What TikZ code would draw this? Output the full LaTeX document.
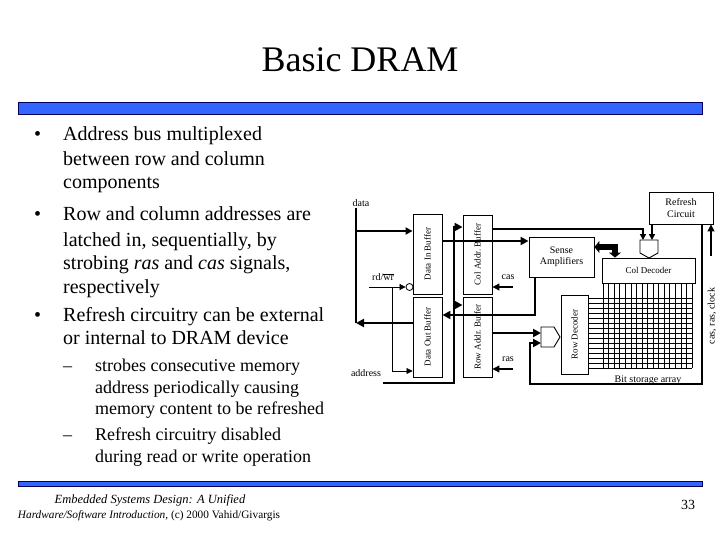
\documentclass[tikz,border=0pt]{standalone}
\usepackage{fontspec}
\setmainfont{Liberation Serif}
\usetikzlibrary{arrows.meta}
\definecolor{barblue}{RGB}{51,102,255}
\definecolor{barnavy}{RGB}{0,0,90}
\begin{document}
\begin{tikzpicture}[x=1pt,y=-1pt,
  box/.style={draw, line width=0.9pt, inner sep=0pt},
  lbl/.style={inner sep=0pt, font=\fontsize{9}{10}\selectfont},
  small/.style={inner sep=0pt, font=\fontsize{10}{11}\selectfont},
  thickline/.style={line width=2.8pt},
  bus/.style={line width=2.8pt, line join=miter, -{Triangle[length=8pt,width=8pt]}},
  medarrow/.style={line width=1.8pt, line join=miter, -{Triangle[length=7pt,width=7pt]}},
  thinarrow/.style={line width=1.1pt, -{Triangle[length=7pt,width=7pt]}},
  hairarrow/.style={line width=0.7pt, -{Triangle[length=6pt,width=6pt]}},
  fatarrow/.style={line width=6pt, line join=miter, {Triangle[length=5pt,width=12pt]}-{Triangle[length=5pt,width=12pt]}},
  maintext/.style={anchor=base west, inner sep=0pt, font=\fontsize{20}{24}\selectfont},
  subtext/.style={anchor=base west, inner sep=0pt, font=\fontsize{18}{21}\selectfont},
  foot/.style={inner sep=0pt, font=\fontsize{12.5}{15}\selectfont}]
\useasboundingbox (0,0) rectangle (720,540);
\fill[white] (0,0) rectangle (720,540);

% title and bars
\node[inner sep=0pt, anchor=base, font=\fontsize{36}{40}\selectfont] (title) at (360,72) {Basic DRAM};
\draw[fill=barblue, draw=barnavy, line width=0.8pt] (18,102) rectangle (702,114);
\draw[fill=barblue, draw=barnavy, line width=0.8pt] (18,481) rectangle (702,486);

% bullet text
\node[maintext] (b1) at (34,141) {•};
\node[maintext] (t1) at (63,141) {Address bus multiplexed};
\node[maintext] (t2) at (63,166) {between row and column};
\node[maintext] (t3) at (63,189) {components};
\node[maintext] (b2) at (34,221) {•};
\node[maintext] (t4) at (63,221) {Row and column addresses are};
\node[maintext] (t5) at (63,246) {latched in, sequentially, by};
\node[maintext] (t6) at (63,269) {strobing \textit{ras} and \textit{cas} signals,};
\node[maintext] (t7) at (63,293) {respectively};
\node[maintext] (b3) at (34,321) {•};
\node[maintext] (t8) at (63,321) {Refresh circuitry can be external};
\node[maintext] (t9) at (63,344) {or internal to DRAM device};
\node[subtext] (d1) at (63,371) {–};
\node[subtext] (s1) at (95,371) {strobes consecutive memory};
\node[subtext] (s2) at (95,393) {address periodically causing};
\node[subtext] (s3) at (95,414) {memory content to be refreshed};
\node[subtext] (d2) at (63,440) {–};
\node[subtext] (s4) at (95,440) {Refresh circuitry disabled};
\node[subtext] (s5) at (95,462) {during read or write operation};

% footer
\node[foot] (f1) at (150,500) {\textit{Embedded Systems Design: A Unified}};
\node[foot, font=\fontsize{11.3}{13}\selectfont] (f2) at (149,516) {\textit{Hardware/Software Introduction,} (c) 2000 Vahid/Givargis};
\node[inner sep=0pt, font=\fontsize{14}{16}\selectfont] (pg) at (688,505) {33};

% boxes
\node[box, minimum width=29, minimum height=80] (din) at (427.5,254) {};
\node[lbl, rotate=90] at (din.center) {Data In Buffer};
\node[box, minimum width=29, minimum height=80] (dout) at (427.5,337) {};
\node[lbl, rotate=90] at (dout.center) {Data Out Buffer};
\node[box, minimum width=29, minimum height=79] (cab) at (477.5,254.5) {};
\node[lbl, rotate=90] at (cab.center) {Col Addr.\ Buffer};
\node[box, minimum width=29, minimum height=80] (rab) at (477.5,337) {};
\node[lbl, rotate=90] at (rab.center) {Row Addr.\ Buffer};
\node[box, minimum width=65, minimum height=40, align=center, font=\fontsize{10}{11.5}\selectfont] (sense) at (561.5,257) {Sense\\Amplifiers};
\node[box, minimum width=93, minimum height=25, font=\fontsize{9}{10}\selectfont] (cdec) at (648.5,270.5) {Col Decoder};
\node[box, minimum width=27, minimum height=79] (rdec) at (574.5,334.5) {};
\node[lbl, rotate=90] at (rdec.center) {Row Decoder};
\node[box, minimum width=64, minimum height=32, align=center, font=\fontsize{10}{12}\selectfont] (refresh) at (681,208) {Refresh\\Circuit};

% storage array
\foreach \i in {0,...,16} {
  \draw[line width=0.6pt] (603+\i*5.5625,298) -- (603+\i*5.5625,368);
  \draw[line width=0.6pt] (603+\i*5.5625,283) -- (603+\i*5.5625,298);
}
\foreach \j in {0,...,14} {
  \draw[line width=0.6pt] (603,298+\j*5) -- (692,298+\j*5);
  \draw[line width=0.6pt] (588,298+\j*5) -- (603,298+\j*5);
}
\node[small, font=\fontsize{10}{11}\selectfont] (bsa) at (648,380) {Bit storage array};

% multiplexers
\draw[line width=0.9pt] (640,240) -- (658,240) -- (658,253) -- (649,258) -- (640,253) -- cycle;
\draw[line width=0.9pt] (541,327) -- (554,327) -- (560,337) -- (554,347) -- (541,347) -- cycle;
\coordinate (cmuxL) at (643,240);
\coordinate (cmuxR) at (652,240);
\coordinate (rmuxA) at (541,333);
\coordinate (rmuxB) at (541,343);

% labels
\node[small] (datal) at (361,203) {data};
\node[small] (rdwr) at (383,277) {rd/\(\overline{\mbox{wr}}\)};
\node[small] (addr) at (366,373) {address};
\node[small] (cas) at (508,277) {cas};
\node[small] (ras) at (508,359) {ras};
\node[small, rotate=90] (crc) at (712,316) {cas, ras, clock};

% data bus
\coordinate (dtop) at (356,208);
\coordinate (dbot) at (356,323);
\coordinate (ydi) at (356,231);
\draw[thickline] (dtop) -- (dbot);
\draw[medarrow] (ydi) -- (din.west |- ydi);
\draw[bus] (dout.west |- dbot) -- (dbot);

% data in -> sense amps
\coordinate (ys) at (0,241);
\draw[bus] (din.east |- ys) -- (sense.west |- ys);
% sense amps -> data out
\coordinate (sb) at (535,315);
\draw[bus] (sense.south -| sb) -- (sb) -- (dout.east |- sb);

% rd/wr
\node[circle, draw, line width=0.8pt, minimum size=7, inner sep=0pt] (bub) at (409.5,287) {};
\coordinate (rd0) at (369,287);
\coordinate (rdb) at (392,287);
\coordinate (rdc) at (392,371);
\draw[hairarrow] (rd0) -- (bub.west);
\draw[hairarrow] (rdb) -- (rdc) -- (dout.west |- rdc);

% address bus
\coordinate (a0) at (383,383);
\coordinate (a1) at (454,383);
\coordinate (a2) at (454,227);
\coordinate (a3) at (454,305);
\draw[bus] (a0) -- (a1) -- (a2) -- (cab.west |- a2);
\draw[bus] (a3) -- (rab.west |- a3);

% cas, ras strobes
\coordinate (cas0) at (513,287);
\coordinate (ras0) at (513,369);
\draw[thinarrow] (cas0) -- (cab.east |- cas0);
\draw[thinarrow] (ras0) -- (rab.east |- ras0);

% col address -> col mux, refresh -> col mux
\coordinate (cm1) at (643,229);
\draw[medarrow, -{Triangle[length=6pt,width=6pt]}] (cab.east |- cm1) -- (cm1) -- (cmuxL);
\draw[medarrow, -{Triangle[length=6pt,width=6pt]}] (refresh.south -| cmuxR) -- (cmuxR);

% sense amps <-> col decoder
\coordinate (fa) at (615,247);
\draw[fatarrow] (sense.east |- fa) -- (fa) -- (cdec.north -| fa);

% row address -> row mux
\draw[bus] (rab.east |- rmuxA) -- (rmuxA);
% refresh loop -> row mux
\coordinate (r1) at (702,384);
\coordinate (r2) at (530,384);
\coordinate (r3) at (530,343);
\draw[bus] (refresh.south -| r1) -- (r1) -- (r2) -- (r3) -- (rmuxB);

% cas, ras, clock -> refresh
\coordinate (cr0) at (711,256);
\draw[thinarrow] (cr0) -- (refresh.south -| cr0);
\end{tikzpicture}
\end{document}
